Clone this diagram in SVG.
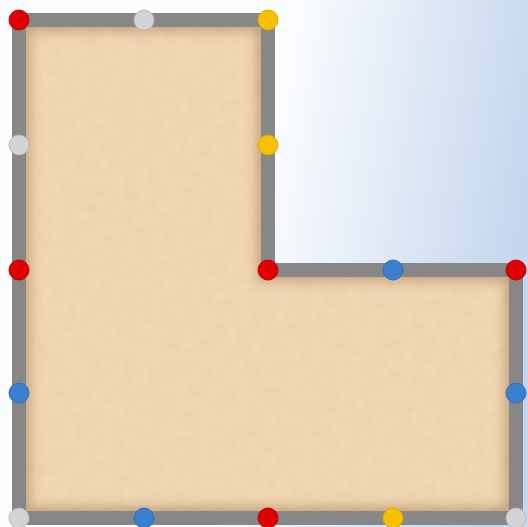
<svg xmlns="http://www.w3.org/2000/svg" width="528" height="527" viewBox="0 0 528 527">
<defs>
<linearGradient id="bg" gradientUnits="userSpaceOnUse" x1="275" y1="110" x2="528" y2="150">
<stop offset="0" stop-color="#fbfcfe"/>
<stop offset="1" stop-color="#c5d7ee"/>
</linearGradient>
<clipPath id="clipL"><path d="M19,20 H268 V270 H516 V518 H19 Z"/></clipPath>
<filter id="blur" x="-10%" y="-10%" width="120%" height="120%"><feGaussianBlur stdDeviation="6"/></filter>
<filter id="noise" x="0" y="0" width="100%" height="100%">
<feTurbulence type="fractalNoise" baseFrequency="0.08" numOctaves="3" seed="4" result="n"/>
<feColorMatrix in="n" type="matrix" values="0 0 0 0 0.55  0 0 0 0 0.4  0 0 0 0 0.25  0 0 0 0.18 0"/>
</filter>
</defs>
<style>
.wall{fill:none;stroke:#878787;stroke-width:14;stroke-linejoin:miter}
.dot{stroke-width:1}
.red{fill:#e00000;stroke:#c00000}
.grey{fill:#d4d4d4;stroke:#bbbbbb}
.yellow{fill:#f7c000;stroke:#e0a800}
.blue{fill:#3a7fd0;stroke:#2f6fbf}
</style>
<rect x="0" y="0" width="528" height="527" fill="url(#bg)"/>
<g id="floor">
<path d="M19,20 H268 V270 H516 V518 H19 Z" fill="#f3d9b5"/>
<g clip-path="url(#clipL)">
<rect x="19" y="20" width="497" height="498" filter="url(#noise)"/>
<path d="M19,20 H268 V270 H516 V518 H19 Z" fill="none" stroke="#a07850" stroke-opacity="0.55" stroke-width="22" filter="url(#blur)"/>
</g>
</g>
<g id="walls">
<path class="wall" d="M19,20 H268 V270 H516 V518 H19 Z"/>
</g>
<g id="p1"><circle class="dot red" cx="19" cy="20" r="10"/></g>
<g id="p2"><circle class="dot grey" cx="144" cy="20" r="10"/></g>
<g id="p3"><circle class="dot yellow" cx="268" cy="20" r="10"/></g>
<g id="p4"><circle class="dot grey" cx="19" cy="145" r="10"/></g>
<g id="p5"><circle class="dot yellow" cx="268" cy="145" r="10"/></g>
<g id="p6"><circle class="dot red" cx="19" cy="270" r="10"/></g>
<g id="p7"><circle class="dot red" cx="268" cy="270" r="10"/></g>
<g id="p8"><circle class="dot blue" cx="393" cy="270" r="10"/></g>
<g id="p9"><circle class="dot red" cx="516" cy="270" r="10"/></g>
<g id="p10"><circle class="dot blue" cx="19" cy="393" r="10"/></g>
<g id="p11"><circle class="dot blue" cx="516" cy="393" r="10"/></g>
<g id="p12"><circle class="dot grey" cx="19" cy="518" r="10"/></g>
<g id="p13"><circle class="dot blue" cx="144" cy="518" r="10"/></g>
<g id="p14"><circle class="dot red" cx="268" cy="518" r="10"/></g>
<g id="p15"><circle class="dot yellow" cx="393" cy="518" r="10"/></g>
<g id="p16"><circle class="dot grey" cx="516" cy="518" r="10"/></g>
</svg>
